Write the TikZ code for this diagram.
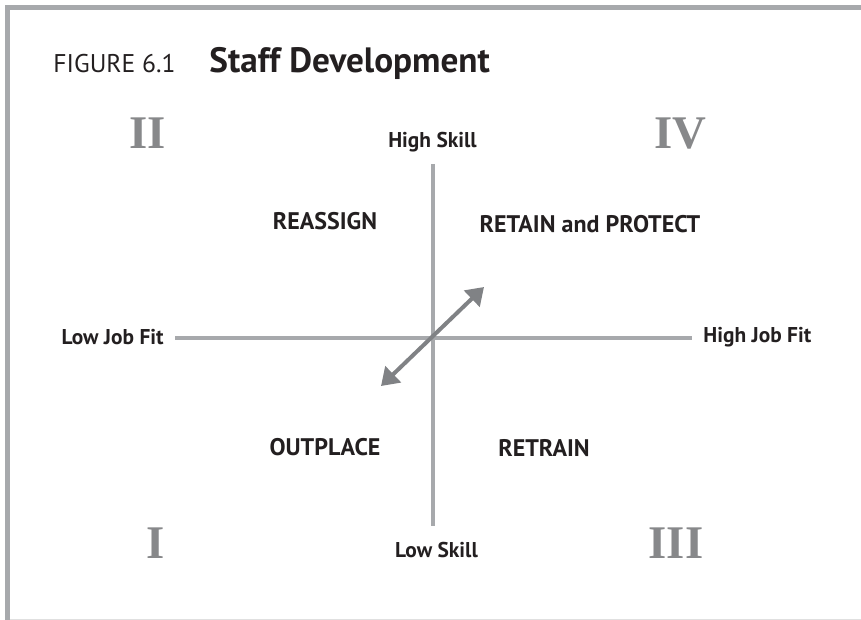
\documentclass[tikz,border=0pt]{standalone}
\usepackage{fontspec}
\setmainfont{PT Sans}
\newfontfamily\numeralfont{Liberation Serif}
\usetikzlibrary{positioning,arrows.meta}
\definecolor{FrameColor}{RGB}{167,169,172}
\definecolor{AxisColor}{RGB}{167,169,172}
\definecolor{ArrowColor}{RGB}{128,130,133}
\definecolor{NumeralColor}{RGB}{135,136,138}
\definecolor{TextColor}{RGB}{35,31,32}

\begin{document}
\begin{tikzpicture}[x=0.5pt, y=-0.5pt,
    every node/.style={inner sep=0pt, text=TextColor},
    figlabel/.style={font=\fontsize{12.8}{15}\selectfont},
    titlefont/.style={font=\fontsize{17.6}{21}\selectfont\bfseries},
    axislabel/.style={font=\fontsize{10.7}{13}\selectfont\bfseries},
    quadrant/.style={font=\fontsize{12}{14}\selectfont\bfseries, anchor=base},
    numeral/.style={font=\fontsize{23.4}{28}\selectfont\numeralfont\bfseries,
        text=NumeralColor, anchor=base},
    axisline/.style={draw=AxisColor, line width=2pt},
    fitarrow/.style={draw=ArrowColor, line width=2pt,
        {Triangle[length=8.5pt,width=11pt]}-{Triangle[length=8.5pt,width=11pt]}}]

    \useasboundingbox (0,0) rectangle (861,620);

    % frame
    \draw[FrameColor, line width=2.5pt] (7.5,620) |- (861,7.5);
    \draw[black!12, line width=0.5pt] (10,619) -- (861,619);

    \node[figlabel, anchor=base west] (FigNum) at (53,73) {FIGURE 6.1};
    \node[titlefont, base right=16.5pt of FigNum] (Title) {Staff Development};

    \coordinate (West) at (175,337.5);
    \coordinate (East) at (692,337.5);
    \coordinate (North) at (432.5,164);
    \coordinate (South) at (432.5,526);

    \draw[axisline] (West) -- (East);
    \draw[axisline] (North) -- (South);

    \node[axislabel, left=5.5pt of West] (LowFit) {Low Job Fit};
    \node[axislabel, right=5.5pt of East] (HighFit) {High Job Fit};
    \node[axislabel, above=6pt of North] (HighSkill) {High Skill};
    \node[axislabel, below=8pt of South, xshift=2pt] (LowSkill) {Low Skill};

    \foreach \name/\x/\y/\txt in {
        Reassign/325/229/REASSIGN, Retain/590/233/RETAIN and PROTECT,
        Outplace/325/455/OUTPLACE, Retrain/544/456/RETRAIN}
    \node[quadrant] (\name) at (\x,\y) {\txt};

    \foreach \name/\x/\y/\txt in {
        QuadII/148/149/II, QuadIV/680/149/IV,
        QuadI/156/558/I, QuadIII/676/558/III}
    \node[numeral] (\name) at (\x,\y) {\txt};

    \coordinate (ArrowLow) at (381,386);
    \coordinate (ArrowHigh) at (484,287);
    \draw[fitarrow] (ArrowLow) -- (ArrowHigh);

\end{tikzpicture}
\end{document}
